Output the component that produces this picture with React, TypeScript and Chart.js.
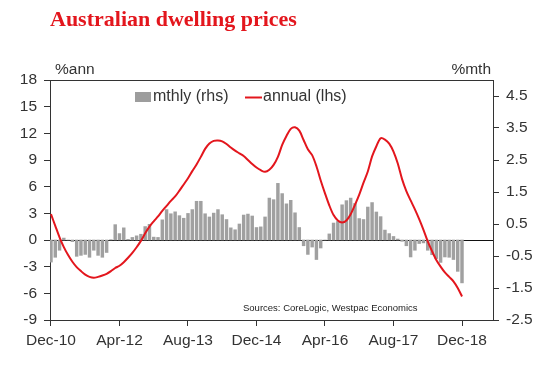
import React, { useEffect, useRef } from 'react';
import { Chart, registerables } from 'chart.js';

Chart.register(...registerables);

// Month index 0 = Dec-10 ... 96 = Dec-18
const xTickLabels = ['Dec-10', 'Apr-12', 'Aug-13', 'Dec-14', 'Apr-16', 'Aug-17', 'Dec-18'];
const xTickStep = 16;
const leftTicks = [-9, -6, -3, 0, 3, 6, 9, 12, 15, 18];
const rightTicks = [-2.5, -1.5, -0.5, 0.5, 1.5, 2.5, 3.5, 4.5];

// mthly % change (rhs)
const monthly = [
  -0.69, -0.54, -0.32, 0.06, 0.0, -0.05, -0.51, -0.48, -0.45, -0.54,
  -0.32, -0.48, -0.54, -0.39, 0.01, 0.48, 0.2, 0.38, 0.02, 0.08,
  0.13, 0.18, 0.42, 0.49, 0.09, 0.08, 0.63, 0.95, 0.82, 0.88,
  0.76, 0.68, 0.83, 0.95, 1.21, 1.21, 0.82, 0.72, 0.84, 0.95,
  0.79, 0.64, 0.38, 0.32, 0.5, 0.78, 0.81, 0.75, 0.39, 0.41,
  0.72, 1.31, 1.26, 1.77, 1.45, 1.13, 1.24, 0.85, 0.39, -0.18,
  -0.45, -0.22, -0.61, -0.25, 0.0, 0.19, 0.53, 0.58, 1.1, 1.23,
  1.31, 1.14, 0.67, 0.64, 1.03, 1.17, 0.875, 0.73, 0.31, 0.2,
  0.11, 0.03, -0.04, -0.18, -0.53, -0.32, -0.11, -0.09, -0.32, -0.46,
  -0.58, -0.7, -0.53, -0.54, -0.61, -0.98, -1.34,
];

// annual % change (lhs)
const annual = [
  2.9, 1.6, 0.3, -0.8, -1.7, -2.45, -3.05, -3.5, -3.9, -4.15,
  -4.25, -4.15, -4.0, -3.8, -3.5, -3.15, -2.9, -2.5, -2.0, -1.45,
  -0.82, -0.1, 0.75, 1.5, 2.1, 2.65, 3.28, 3.84, 4.4, 4.9,
  5.55, 6.25, 6.95, 7.75, 8.5, 9.35, 10.25, 10.85, 11.15, 11.2,
  11.1, 10.8, 10.4, 10.05, 9.75, 9.45, 9.0, 8.55, 8.15, 7.85,
  7.67, 7.9, 8.45, 9.35, 10.7, 11.7, 12.5, 12.68, 12.3, 11.25,
  10.2, 9.55, 8.3, 6.7, 5.25, 3.9, 2.8, 2.2, 1.98, 2.2,
  2.9, 3.95, 5.1, 6.45, 7.7, 9.4, 10.55, 11.45, 11.3, 10.85,
  9.95, 8.6, 6.85, 5.5, 4.45, 3.45, 2.35, 1.15, -0.15, -1.25,
  -2.25, -3.0, -3.65, -4.15, -4.65, -5.4, -6.35,
];

const FONT = '"Liberation Sans", Arial, sans-serif';
const TEXT = '#333333';
const RED = '#e3161d';
const GREY = '#a0a0a0';

const overlay = {
  id: 'overlay',
  afterDraw(chart: any) {
    const { ctx, chartArea: a } = chart;
    ctx.save();
    ctx.fillStyle = TEXT;
    ctx.textBaseline = 'middle';
    ctx.font = `15.5px ${FONT}`;
    ctx.textAlign = 'left';
    ctx.fillText('%ann', a.left + 5, a.top - 10);
    ctx.textAlign = 'right';
    ctx.fillText('%mth', a.right - 2, a.top - 10);

    // legend
    ctx.font = `16px ${FONT}`;
    ctx.textAlign = 'left';
    ctx.fillStyle = '#9d9d9d';
    ctx.fillRect(a.left + 85, a.top + 12, 16, 10);
    ctx.fillStyle = TEXT;
    ctx.fillText('mthly (rhs)', a.left + 103, a.top + 17);
    ctx.strokeStyle = RED;
    ctx.lineWidth = 2;
    ctx.beginPath();
    ctx.moveTo(a.left + 195, a.top + 17.5);
    ctx.lineTo(a.left + 212, a.top + 17.5);
    ctx.stroke();
    ctx.fillText('annual (lhs)', a.left + 213, a.top + 17);

    // source
    ctx.font = `9.5px ${FONT}`;
    ctx.fillStyle = '#222';
    ctx.fillText('Sources: CoreLogic, Westpac Economics', a.left + 193, a.bottom - 12);
    ctx.restore();
  },
};

export default function App() {
  const ref = useRef<HTMLCanvasElement | null>(null);

  useEffect(() => {
    if (!ref.current) return;
    const chart = new Chart(ref.current, {
      type: 'bar',
      data: {
        datasets: [
          {
            type: 'line',
            label: 'annual (lhs)',
            data: annual.map((v, i) => ({ x: i, y: v })),
            borderColor: RED,
            backgroundColor: RED,
            borderWidth: 2,
            pointRadius: 0,
            tension: 0.3,
            yAxisID: 'y',
            order: 0,
          } as any,
          {
            type: 'bar',
            label: 'mthly (rhs)',
            data: monthly.map((v, i) => ({ x: i, y: v })),
            backgroundColor: GREY,
            borderWidth: 0,
            barThickness: 2.8,
            yAxisID: 'y1',
            order: 1,
          } as any,
        ],
      },
      options: {
        responsive: false,
        animation: false,
        devicePixelRatio: 1,
        layout: { padding: 0 },
        plugins: {
          legend: { display: false },
          tooltip: { enabled: false },
          title: {
            display: true,
            text: 'Australian dwelling prices',
            align: 'start',
            fullSize: false,
            color: RED,
            font: { family: '"Liberation Serif", "Times New Roman", serif', size: 22, weight: 'bold', lineHeight: 1.2 },
            padding: { top: 7, bottom: 46.6 },
          },
        },
        scales: {
          x: {
            type: 'linear',
            min: -0.23,
            max: 103.24,
            offset: false,
            afterFit: (s: any) => { s.height = 47; },
            afterBuildTicks: (s: any) => {
              s.ticks = xTickLabels.map((_, i) => ({ value: i * xTickStep }));
            },
            ticks: {
              autoSkip: false,
              maxRotation: 0,
              padding: 5,
              color: TEXT,
              font: { family: FONT, size: 15.5 },
              callback: (v: any) => xTickLabels[Math.round(Number(v) / xTickStep)] ?? '',
            },
            grid: { offset: false, drawOnChartArea: false, drawTicks: true, tickLength: 6, tickColor: TEXT },
            border: { display: true, color: TEXT, width: 1 },
          },
          y: {
            type: 'linear',
            position: 'left',
            min: -9,
            max: 18,
            afterFit: (s: any) => { s.width = 50; },
            afterBuildTicks: (s: any) => {
              s.ticks = leftTicks.map((v) => ({ value: v }));
            },
            ticks: {
              autoSkip: false,
              padding: 7,
              color: TEXT,
              font: { family: FONT, size: 15.5 },
              callback: (v: any) => String(v),
            },
            grid: {
              drawOnChartArea: true,
              drawTicks: true,
              tickLength: 6,
              tickColor: TEXT,
              color: (c: any) => (c.tick && c.tick.value === 0 ? '#111' : c.tick && c.tick.value === 18 ? TEXT : 'rgba(0,0,0,0)'),
            },
            border: { display: true, color: TEXT, width: 1 },
          },
          y1: {
            type: 'linear',
            position: 'right',
            min: -2.5,
            max: 5,
            afterFit: (s: any) => { s.width = 66; },
            afterBuildTicks: (s: any) => {
              s.ticks = rightTicks.map((v) => ({ value: v }));
            },
            ticks: {
              autoSkip: false,
              padding: 7,
              color: TEXT,
              font: { family: FONT, size: 15.5 },
              callback: (v: any) => Number(v).toFixed(1),
            },
            grid: { drawOnChartArea: false, drawTicks: true, tickLength: 6, tickColor: TEXT },
            border: { display: true, color: TEXT, width: 1 },
          },
        },
      } as any,
      plugins: [overlay],
    });
    return () => chart.destroy();
  }, []);

  return (
    <div style={{ position: 'fixed', left: 0, top: 0, width: 559, height: 367, background: '#fff' }}>
      <canvas ref={ref} width={559} height={367} style={{ display: 'block', width: 559, height: 367 }} />
    </div>
  );
}
